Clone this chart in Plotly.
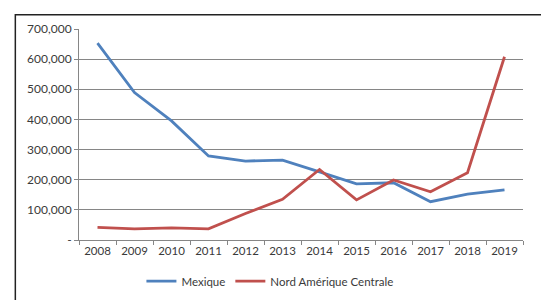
import plotly.graph_objects as go

years = ["2008", "2009", "2010", "2011", "2012", "2013", "2014", "2015", "2016", "2017", "2018", "2019"]
mexique = [653000, 489000, 395000, 279000, 262000, 265000, 226000, 186000, 190000, 127000, 152000, 166000]
nord_amerique_centrale = [42000, 37000, 40000, 37000, 88000, 135000, 234000, 133000, 199000, 160000, 223000, 608000]
y_tickvals = [0, 100000, 200000, 300000, 400000, 500000, 600000, 700000]
y_ticktext = ["-", "100,000", "200,000", "300,000", "400,000", "500,000", "600,000", "700,000"]

font_family = "Lato, 'Open Sans', sans-serif"

fig = go.Figure()
fig.add_trace(go.Scatter(x=years, y=mexique, mode="lines", name="Mexique",
                         line=dict(color="#4F81BD", width=2.8)))
fig.add_trace(go.Scatter(x=years, y=nord_amerique_centrale, mode="lines", name="Nord Amérique Centrale",
                         line=dict(color="#C0504D", width=2.8)))

fig.update_layout(
    width=549, height=300,
    margin=dict(l=71, r=34, t=21, b=59),
    paper_bgcolor="white", plot_bgcolor="white",
    font=dict(family=font_family, size=11.5, color="#3a3a3a"),
    showlegend=True,
    legend=dict(orientation="h", x=0.43, xanchor="center", y=-0.195, yanchor="middle",
                font=dict(size=11.5, color="#3a3a3a"), itemwidth=30, bgcolor="rgba(0,0,0,0)"),
    xaxis=dict(type="category", range=[-0.5, 11.5], showgrid=False, showline=True,
               linecolor="#868686", linewidth=1, ticks="outside", tickson="boundaries",
               ticklen=4, tickcolor="#868686", tickfont=dict(size=11.5, color="#3a3a3a")),
    yaxis=dict(range=[0, 700000], tickvals=y_tickvals, ticktext=y_ticktext,
               showgrid=True, gridcolor="#868686", gridwidth=1, showline=True,
               linecolor="#868686", linewidth=1, ticks="outside", ticklen=4,
               tickcolor="#868686", zeroline=False, tickfont=dict(size=12, color="#3a3a3a")),
    shapes=[dict(type="rect", xref="paper", yref="paper",
                 x0=-0.1434, x1=1.3, y0=-0.6, y1=1.068,
                 line=dict(color="#222222", width=1.5), layer="above")],
)

fig.write_html("out.html")
